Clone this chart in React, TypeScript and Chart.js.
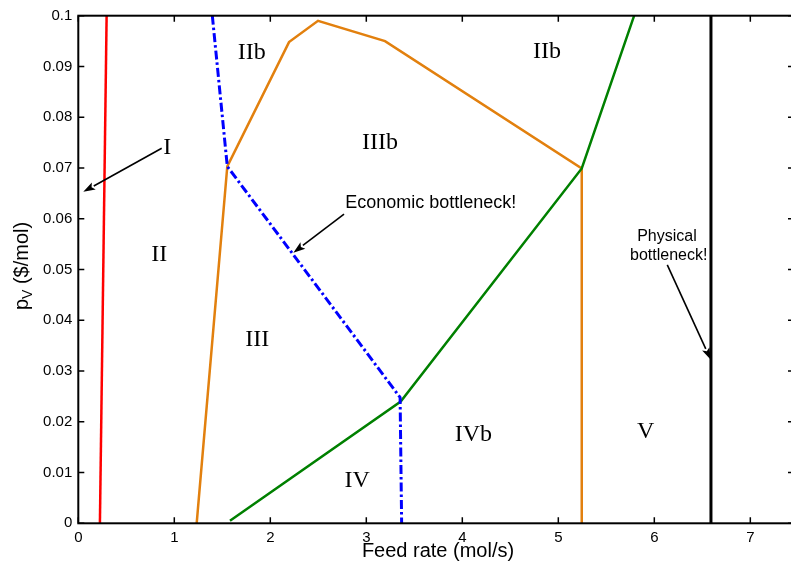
import React, { useEffect, useRef } from 'react';
import { Chart, registerables } from 'chart.js';

Chart.register(...registerables);

// axis ranges and ticks
const X_MIN = 0;
const X_MAX = 7.455;
const Y_MIN = 0;
const Y_MAX = 0.1;
const xTicks = [0, 1, 2, 3, 4, 5, 6, 7];
const yTicks = [0, 0.01, 0.02, 0.03, 0.04, 0.05, 0.06, 0.07, 0.08, 0.09, 0.1];
const yTickLabels = ['0', '0.01', '0.02', '0.03', '0.04', '0.05', '0.06', '0.07', '0.08', '0.09', '0.1'];

// boundary lines
const redX = [0.225, 0.295];
const redY = [0, 0.1];
const orangeX = [1.233, 1.552, 2.195, 2.497, 3.195, 5.244, 5.244];
const orangeY = [0, 0.0703, 0.0948, 0.099, 0.095, 0.0699, 0];
const greenX = [1.58, 3.358, 5.244, 5.79];
const greenY = [0.0005, 0.024, 0.0699, 0.1];
const blueX = [1.396, 1.552, 3.352, 3.368];
const blueY = [0.1, 0.0703, 0.0248, 0];
const blackX = [6.59, 6.59];
const blackY = [0, 0.1];

// region labels (serif)
const regionText = ['I', 'II', 'IIb', 'IIb', 'IIIb', 'III', 'IV', 'IVb', 'V'];
const regionX = [0.927, 0.844, 1.806, 4.882, 3.143, 1.865, 2.906, 4.115, 5.91];
const regionY = [0.0739, 0.0529, 0.0927, 0.0929, 0.075, 0.0362, 0.0083, 0.0174, 0.018];

// sans annotations
const noteText = ['Economic bottleneck!', 'Physical', 'bottleneck!'];
const noteX = [3.672, 6.132, 6.15];
const noteY = [0.0631, 0.0565, 0.0527];
const noteSize = [18, 16, 16];

// arrows (from -> tip)
const arrowFromX = [0.869, 2.768, 6.135];
const arrowFromY = [0.0739, 0.0609, 0.0509];
const arrowToX = [0.052, 2.24, 6.588];
const arrowToY = [0.0653, 0.0533, 0.0322];

const X_TITLE = 'Feed rate (mol/s)';
const X_TITLE_AT = 3.747;

const SANS = "'Liberation Sans', Arial, Helvetica, sans-serif";
const SERIF = "'Liberation Serif', 'Times New Roman', serif";

const pts = (xs: number[], ys: number[]) => xs.map((x, i) => ({ x, y: ys[i] }));

const decorPlugin = {
  id: 'decor',
  afterDraw(chart: any) {
    const ctx = chart.ctx;
    const { left, right, top, bottom } = chart.chartArea;
    const xs = chart.scales.x;
    const ys = chart.scales.y;
    ctx.save();
    // box
    ctx.strokeStyle = '#000';
    ctx.lineWidth = 2;
    ctx.strokeRect(left, top, right - left, bottom - top);
    // inward ticks
    const tl = 6;
    ctx.lineWidth = 1.5;
    ctx.beginPath();
    xTicks.forEach((v) => {
      const px = xs.getPixelForValue(v);
      ctx.moveTo(px, bottom);
      ctx.lineTo(px, bottom - tl);
      ctx.moveTo(px, top);
      ctx.lineTo(px, top + tl);
    });
    yTicks.forEach((v) => {
      const py = ys.getPixelForValue(v);
      ctx.moveTo(left, py);
      ctx.lineTo(left + tl, py);
      ctx.moveTo(right, py);
      ctx.lineTo(right - tl, py);
    });
    ctx.stroke();

    // axis titles
    ctx.fillStyle = '#000';
    ctx.font = `20px ${SANS}`;
    ctx.textAlign = 'center';
    ctx.textBaseline = 'alphabetic';
    ctx.fillText(X_TITLE, xs.getPixelForValue(X_TITLE_AT), 557);

    // y title with subscript
    ctx.save();
    ctx.translate(27.5, 266);
    ctx.rotate(-Math.PI / 2);
    ctx.font = `20px ${SANS}`;
    const wP = ctx.measureText('p').width;
    const rest = ' ($/mol)';
    const wR = ctx.measureText(rest).width;
    ctx.font = `14px ${SANS}`;
    const wV = ctx.measureText('V').width;
    const total = wP + wV + wR;
    let cx = -total / 2;
    ctx.textAlign = 'left';
    ctx.font = `20px ${SANS}`;
    ctx.fillText('p', cx, 0);
    cx += wP;
    ctx.font = `14px ${SANS}`;
    ctx.fillText('V', cx, 4);
    cx += wV;
    ctx.font = `20px ${SANS}`;
    ctx.fillText(rest, cx, 0);
    ctx.restore();

    // region labels
    ctx.font = `24px ${SERIF}`;
    ctx.textAlign = 'center';
    ctx.textBaseline = 'middle';
    regionText.forEach((t, i) => {
      ctx.fillText(t, xs.getPixelForValue(regionX[i]), ys.getPixelForValue(regionY[i]));
    });

    // notes
    noteText.forEach((t, i) => {
      ctx.font = `${noteSize[i]}px ${SANS}`;
      ctx.fillText(t, xs.getPixelForValue(noteX[i]), ys.getPixelForValue(noteY[i]));
    });

    // arrows
    ctx.strokeStyle = '#000';
    ctx.fillStyle = '#000';
    ctx.lineWidth = 1.6;
    arrowFromX.forEach((_, i) => {
      const x1 = xs.getPixelForValue(arrowFromX[i]);
      const y1 = ys.getPixelForValue(arrowFromY[i]);
      const x2 = xs.getPixelForValue(arrowToX[i]);
      const y2 = ys.getPixelForValue(arrowToY[i]);
      const ang = Math.atan2(y2 - y1, x2 - x1);
      const hl = 12;
      const hw = 4;
      const bx = x2 - hl * Math.cos(ang);
      const by = y2 - hl * Math.sin(ang);
      ctx.beginPath();
      ctx.moveTo(x1, y1);
      ctx.lineTo(bx, by);
      ctx.stroke();
      ctx.beginPath();
      ctx.moveTo(x2, y2);
      ctx.lineTo(bx + hw * Math.sin(ang), by - hw * Math.cos(ang));
      ctx.lineTo(bx + 2.5 * Math.cos(ang), by + 2.5 * Math.sin(ang));
      ctx.lineTo(bx - hw * Math.sin(ang), by + hw * Math.cos(ang));
      ctx.closePath();
      ctx.fill();
    });
    ctx.restore();
  },
};

export default function App() {
  const ref = useRef<HTMLCanvasElement>(null);
  useEffect(() => {
    if (!ref.current) return;
    const line = (data: any, color: string, width: number, dash: number[] = []) => ({
      data,
      showLine: true,
      borderColor: color,
      backgroundColor: color,
      borderWidth: width,
      borderDash: dash,
      pointRadius: 0,
      fill: false,
      tension: 0,
    });
    const chart = new Chart(ref.current, {
      type: 'scatter',
      data: {
        datasets: [
          line(pts(blueX, blueY), '#0000ff', 3, [9, 3, 2.5, 3]),
          line(pts(greenX, greenY), '#008000', 2.5),
          line(pts(orangeX, orangeY), 'rgb(226,128,14)', 2.5),
          line(pts(redX, redY), '#ff0000', 2.5),
          line(pts(blackX, blackY), '#000000', 3),
        ] as any,
      },
      options: {
        animation: false,
        responsive: false,
        events: [],
        layout: { padding: { top: 15.7, right: 0, left: 0, bottom: 0 } },
        plugins: { legend: { display: false }, tooltip: { enabled: false } },
        scales: {
          x: {
            type: 'linear',
            min: X_MIN,
            max: X_MAX,
            grid: { display: false, drawTicks: false },
            border: { display: false },
            afterBuildTicks: (s: any) => {
              s.ticks = xTicks.map((v) => ({ value: v }));
            },
            afterFit: (s: any) => {
              s.height = 43.7;
            },
            ticks: {
              autoSkip: false,
              maxRotation: 0,
              padding: 6,
              color: '#000',
              font: { family: SANS, size: 15 },
              callback: (v: any) => String(v),
            },
          },
          y: {
            type: 'linear',
            min: Y_MIN,
            max: Y_MAX,
            grid: { display: false, drawTicks: false },
            border: { display: false },
            afterBuildTicks: (s: any) => {
              s.ticks = yTicks.map((v) => ({ value: v }));
            },
            afterFit: (s: any) => {
              s.width = 78.3;
            },
            ticks: {
              autoSkip: false,
              padding: 6,
              color: '#000',
              font: { family: SANS, size: 15 },
              callback: (v: any) => {
                const i = yTicks.findIndex((t) => Math.abs(t - v) < 1e-9);
                return i >= 0 ? yTickLabels[i] : '';
              },
            },
          },
        },
      } as any,
      plugins: [decorPlugin],
    });
    return () => chart.destroy();
  }, []);
  return (
    <div style={{ position: 'fixed', left: 0, top: 0, width: 791, height: 567, overflow: 'hidden', background: '#fff' }}>
      <canvas ref={ref} width={794} height={567} style={{ display: 'block', width: 794, height: 567 }} />
    </div>
  );
}
